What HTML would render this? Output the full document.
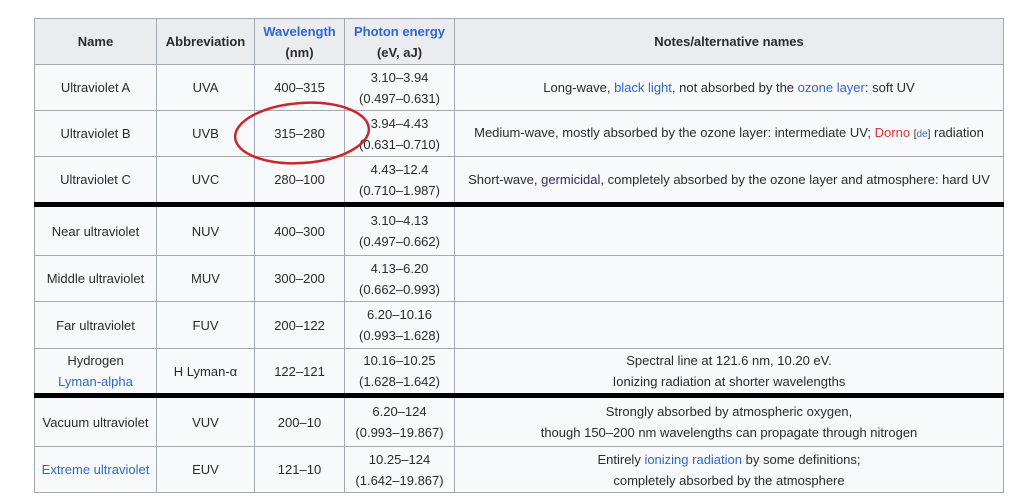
<!DOCTYPE html>
<html><head><meta charset="utf-8"><style>
html,body{margin:0;padding:0;background:#fff;width:1024px;height:500px;overflow:hidden}
table{position:absolute;left:34px;top:18px;border-collapse:collapse;font-family:"Liberation Sans",Arial,sans-serif;font-size:13px;color:#2a2b2c;table-layout:fixed}
td,th{border:1px solid #a2a9b1;text-align:center;padding:0 4px;line-height:21px;background:#f8f9fa;height:46px;box-sizing:border-box}
th{background:#eaecf0;font-weight:bold}
tr.thick td{border-top:5px solid #000}
a{color:#3366cc;text-decoration:none}
.r{color:#d33}
.n{color:#2a2a6a}
</style></head><body>
<table>
<colgroup><col style="width:122px"><col style="width:98px"><col style="width:90px"><col style="width:110px"><col style="width:549px"></colgroup>
<tr><th style="height:46px">Name</th><th>Abbreviation</th><th><a>Wavelength</a><br>(nm)</th><th><a>Photon energy</a><br>(eV, aJ)</th><th>Notes/alternative names</th></tr>
<tr><td style="height:46px">Ultraviolet A</td><td>UVA</td><td>400–315</td><td>3.10–3.94<br>(0.497–0.631)</td><td>Long-wave, <a>black light</a>, not absorbed by the <a>ozone layer</a>: soft UV</td></tr>
<tr><td style="height:46px">Ultraviolet B</td><td>UVB</td><td>315–280</td><td>3.94–4.43<br>(0.631–0.710)</td><td>Medium-wave, mostly absorbed by the ozone layer: intermediate UV; <span class="r">Dorno</span> <span style="font-size:10px">[<a>de</a>]</span> radiation</td></tr>
<tr><td style="height:48px">Ultraviolet C</td><td>UVC</td><td>280–100</td><td>4.43–12.4<br>(0.710–1.987)</td><td>Short-wave, <span class="n">germicidal</span>, completely absorbed by the ozone layer and atmosphere: hard UV</td></tr>
<tr class="thick"><td style="height:51px">Near ultraviolet</td><td>NUV</td><td>400–300</td><td>3.10–4.13<br>(0.497–0.662)</td><td></td></tr>
<tr><td style="height:46px">Middle ultraviolet</td><td>MUV</td><td>300–200</td><td>4.13–6.20<br>(0.662–0.993)</td><td></td></tr>
<tr><td style="height:47px">Far ultraviolet</td><td>FUV</td><td>200–122</td><td>6.20–10.16<br>(0.993–1.628)</td><td></td></tr>
<tr><td style="height:47px">Hydrogen<br><a>Lyman-alpha</a></td><td>H Lyman-α</td><td>122–121</td><td>10.16–10.25<br>(1.628–1.642)</td><td>Spectral line at 121.6 nm, 10.20 eV.<br>Ionizing radiation at shorter wavelengths</td></tr>
<tr class="thick"><td style="height:51px">Vacuum ultraviolet</td><td>VUV</td><td>200–10</td><td>6.20–124<br>(0.993–19.867)</td><td>Strongly absorbed by atmospheric oxygen,<br>though 150–200 nm wavelengths can propagate through nitrogen</td></tr>
<tr><td style="height:46px"><a>Extreme ultraviolet</a></td><td>EUV</td><td>121–10</td><td>10.25–124<br>(1.642–19.867)</td><td>Entirely <a>ionizing radiation</a> by some definitions;<br>completely absorbed by the atmosphere</td></tr>
</table>
<svg width="1024" height="500" style="position:absolute;left:0;top:0">
<ellipse cx="302" cy="133" rx="67" ry="30" transform="rotate(-4 302 133)" fill="none" stroke="#c8282d" stroke-width="2.5"/>
</svg>
</body></html>
